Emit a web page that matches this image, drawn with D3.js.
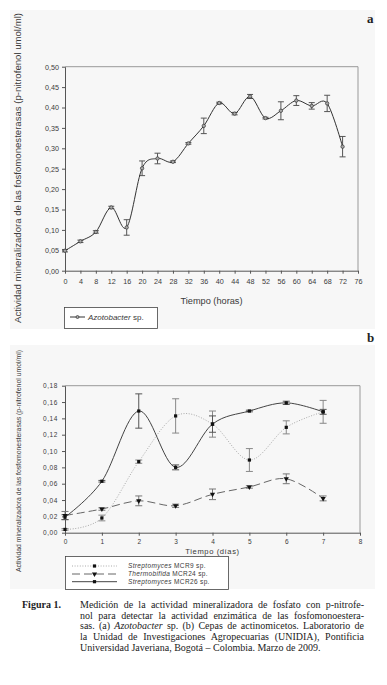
<!DOCTYPE html>
<html>
<head>
<meta charset="utf-8">
<script src="https://cdn.jsdelivr.net/npm/d3@7"></script>
<style>
  body { margin: 0; background: #fff; }
  svg { display: block; }
  text { font-family: "Liberation Sans", Arial, sans-serif; fill: #3a3a3a; }
  .cap text, text.cap { font-family: "Liberation Serif", "Times New Roman", serif; fill: #222; }
</style>
</head>
<body>
<svg id="fig" width="387" height="685"></svg>
<script>
// panel a: Azotobacter sp., time in hours
var hoursA = [0, 4, 8, 12, 16, 20, 24, 28, 32, 36, 40, 44, 48, 52, 56, 60, 64, 68, 72];
var azotobacter = [0.049, 0.072, 0.095, 0.155, 0.106, 0.251, 0.275, 0.267, 0.312, 0.355,
                   0.411, 0.385, 0.427, 0.374, 0.392, 0.417, 0.404, 0.410, 0.304];
var azotobacterErr = [0.003, 0.003, 0.003, 0.003, 0.019, 0.018, 0.013, 0.002, 0.002, 0.019,
                      0.002, 0.003, 0.005, 0.002, 0.022, 0.012, 0.008, 0.020, 0.025];
var xTicksA = d3.range(0, 77, 4);
var yTicksA = [0, 0.05, 0.10, 0.15, 0.20, 0.25, 0.30, 0.35, 0.40, 0.45, 0.50];

// panel b: actinomycetes, time in days
var daysB = [0, 1, 2, 3, 4, 5, 6, 7];
var mcr9 = [0.004, 0.018, 0.087, 0.143, 0.133, 0.089, 0.129, 0.148];
var mcr9Err = [0.001, 0.0035, 0.002, 0.021, 0.016, 0.014, 0.008, 0.014];
var mcr24 = [0.021, 0.029, 0.039, 0.033, 0.047, 0.056, 0.066, 0.042];
var mcr24Err = [0.005, 0.0015, 0.006, 0.002, 0.0065, 0.0015, 0.006, 0.003];
var mcr26 = [0.019, 0.063, 0.149, 0.080, 0.133, 0.149, 0.159, 0.148];
var mcr26Err = [0.003, 0.001, 0.021, 0.003, 0.010, 0.001, 0.002, 0.003];
var xTicksB = [0, 1, 2, 3, 4, 5, 6, 7, 8];
var yTicksB = [0, 0.02, 0.04, 0.06, 0.08, 0.10, 0.12, 0.14, 0.16, 0.18];

var yTitle = "Actividad mineralizadora de las fosfomonesterasas (p-nitrofenol umol/ml)";
var comma = v => d3.format(".2f")(v).replace(".", ",");

var svg = d3.select("#fig");

// light gray panels behind each chart
svg.append("rect").attr("x", 10).attr("y", 10).attr("width", 365).attr("height", 319).attr("fill", "#f7f7f7");
svg.append("rect").attr("x", 10).attr("y", 345).attr("width", 365).attr("height", 244).attr("fill", "#f7f7f7");

function frame(g, x, y) {
  var x0 = x.range()[0], x1 = x.range()[1], y0 = y.range()[0], y1 = y.range()[1];
  g.append("path")
    .attr("d", "M" + x0 + "," + y1 + "H" + x1 + "V" + y0)
    .attr("fill", "none").attr("stroke", "#999").attr("stroke-width", 1);
}

function errorBars(g, xs, ys, errs, x, y, color, cap) {
  var d = xs.map((v, i) => ({x: v, y: ys[i], e: errs[i]}));
  var eb = g.append("g").attr("stroke", color).attr("stroke-width", 1).attr("fill", "none");
  eb.selectAll("path").data(d).enter().append("path")
    .attr("d", p => {
      var cx = x(p.x), t = y(p.y + p.e), b = y(p.y - p.e);
      return "M" + cx + "," + t + "V" + b +
             "M" + (cx - cap) + "," + t + "H" + (cx + cap) +
             "M" + (cx - cap) + "," + b + "H" + (cx + cap);
    });
}

// ---------------- panel a ----------------
var xa = d3.scaleLinear().domain([0, 76]).range([65, 358]);
var ya = d3.scaleLinear().domain([0, 0.5]).range([270.7, 66.7]);
var ga = svg.append("g");
frame(ga, xa, ya);

ga.append("g").attr("transform", "translate(0,270.7)")
  .call(d3.axisBottom(xa).tickValues(xTicksA).tickSize(3).tickPadding(5).tickSizeOuter(0))
  .call(g => g.select(".domain").attr("stroke", "#555"))
  .call(g => g.selectAll("line").attr("stroke", "#555"))
  .call(g => g.selectAll("text").attr("font-size", 7.2).attr("fill", "#3a3a3a").attr("font-family", "Liberation Sans"));

ga.append("g").attr("transform", "translate(65,0)")
  .call(d3.axisLeft(ya).tickValues(yTicksA).tickFormat(comma).tickSize(3).tickPadding(3).tickSizeOuter(0))
  .call(g => g.select(".domain").attr("stroke", "#555"))
  .call(g => g.selectAll("line").attr("stroke", "#555"))
  .call(g => g.selectAll("text").attr("font-size", 7.2).attr("fill", "#3a3a3a").attr("font-family", "Liberation Sans"));

errorBars(ga, hoursA, azotobacter, azotobacterErr, xa, ya, "#555", 3);

var lineA = d3.line().x(d => xa(d[0])).y(d => ya(d[1])).curve(d3.curveCardinal.tension(0));
var ptsA = hoursA.map((h, i) => [h, azotobacter[i]]);
ga.append("path").attr("d", lineA(ptsA)).attr("fill", "none").attr("stroke", "#333").attr("stroke-width", 1);
ga.selectAll(".pa").data(ptsA).enter().append("circle")
  .attr("cx", d => xa(d[0])).attr("cy", d => ya(d[1])).attr("r", 1.7)
  .attr("fill", "#aaa").attr("stroke", "#333").attr("stroke-width", 0.7);

ga.append("text").attr("x", 211.5).attr("y", 303.5).attr("text-anchor", "middle")
  .attr("font-size", 9.2).text("Tiempo (horas)");
ga.append("text").attr("transform", "translate(21,168) rotate(-90)").attr("text-anchor", "middle")
  .attr("font-size", 8.6).attr("fill", "#555").attr("textLength", 310).attr("lengthAdjust", "spacingAndGlyphs").text(yTitle);

// legend a
ga.append("rect").attr("x", 64.5).attr("y", 307.5).attr("width", 93).attr("height", 21)
  .attr("fill", "#fff").attr("stroke", "#444").attr("stroke-width", 0.8);
ga.append("line").attr("x1", 70).attr("x2", 85).attr("y1", 317).attr("y2", 317).attr("stroke", "#333");
ga.append("circle").attr("cx", 77.5).attr("cy", 317).attr("r", 1.5).attr("fill", "#aaa").attr("stroke", "#333").attr("stroke-width", 0.7);
var la = ga.append("text").attr("x", 88).attr("y", 320).attr("font-size", 8);
la.append("tspan").attr("font-style", "italic").text("Azotobacter");
la.append("tspan").text(" sp.");

svg.append("text").attr("class", "cap").attr("x", 367).attr("y", 22.5)
  .attr("font-size", 13).attr("font-weight", "bold").text("a");
svg.append("text").attr("class", "cap").attr("x", 367).attr("y", 341.5)
  .attr("font-size", 13).attr("font-weight", "bold").text("b");

// ---------------- panel b ----------------
var xb = d3.scaleLinear().domain([0, 8]).range([65, 360]);
var yb = d3.scaleLinear().domain([0, 0.18]).range([532.7, 385.7]);
var gb = svg.append("g");
frame(gb, xb, yb);

gb.append("g").attr("transform", "translate(0,532.7)")
  .call(d3.axisBottom(xb).tickValues(xTicksB).tickSize(3).tickPadding(4).tickSizeOuter(0))
  .call(g => g.select(".domain").attr("stroke", "#555"))
  .call(g => g.selectAll("line").attr("stroke", "#555"))
  .call(g => g.selectAll("text").attr("font-size", 6.5).attr("fill", "#3a3a3a").attr("font-family", "Liberation Sans"));

gb.append("g").attr("transform", "translate(65,0)")
  .call(d3.axisLeft(yb).tickValues(yTicksB).tickFormat(comma).tickSize(3).tickPadding(4).tickSizeOuter(0))
  .call(g => g.select(".domain").attr("stroke", "#555"))
  .call(g => g.selectAll("line").attr("stroke", "#555"))
  .call(g => g.selectAll("text").attr("font-size", 6.5).attr("letter-spacing", 0.6).attr("fill", "#3a3a3a").attr("font-family", "Liberation Sans"));

var seriesB = [
  {name: " MCR9 sp.", genus: "Streptomyces", v: mcr9, e: mcr9Err, color: "#aaa", dash: "1,1.6", err: "#888", shape: "circle"},
  {name: " MCR24 sp.", genus: "Thermobifida", v: mcr24, e: mcr24Err, color: "#666", dash: "8,4", err: "#777", shape: "tri"},
  {name: " MCR26 sp.", genus: "Streptomyces", v: mcr26, e: mcr26Err, color: "#444", dash: null, err: "#555", shape: "circle"}
];

var lineB = d3.line().x(d => xb(d[0])).y(d => yb(d[1])).curve(d3.curveCardinal.tension(0));

seriesB.forEach(s => {
  errorBars(gb, daysB, s.v, s.e, xb, yb, s.err, 3.5);
});
seriesB.forEach(s => {
  var pts = daysB.map((d, i) => [d, s.v[i]]);
  gb.append("path").attr("d", lineB(pts)).attr("fill", "none")
    .attr("stroke", s.color).attr("stroke-width", 1)
    .attr("stroke-dasharray", s.dash);
});
function marker(g, shape, cx, cy) {
  if (shape === "tri") {
    g.append("path").attr("d", d3.symbol(d3.symbolTriangle, 12)())
      .attr("transform", "translate(" + cx + "," + cy + ") rotate(180)").attr("fill", "#111");
  } else {
    g.append("rect").attr("x", cx - 1.6).attr("y", cy - 1.6).attr("width", 3.2).attr("height", 3.2).attr("fill", "#111");
  }
}
seriesB.forEach(s => {
  daysB.forEach((d, i) => marker(gb, s.shape, xb(d), yb(s.v[i])));
});

gb.append("text").attr("x", 212.5).attr("y", 554).attr("text-anchor", "middle")
  .attr("font-size", 7.6).attr("letter-spacing", 0.6).text("Tiempo (días)");
gb.append("text").attr("transform", "translate(21,461) rotate(-90)").attr("text-anchor", "middle")
  .attr("font-size", 7.8).attr("fill", "#555").attr("textLength", 222).attr("lengthAdjust", "spacingAndGlyphs").text(yTitle);

// legend b
gb.append("rect").attr("x", 65.5).attr("y", 556.5).attr("width", 163).attr("height", 33)
  .attr("fill", "#fff").attr("stroke", "#444").attr("stroke-width", 0.8);
var rowY = [566, 574, 581.7];
seriesB.forEach((s, i) => {
  gb.append("line").attr("x1", 72).attr("x2", 117).attr("y1", rowY[i]).attr("y2", rowY[i])
    .attr("stroke", s.color).attr("stroke-dasharray", s.dash);
  marker(gb, s.shape, 94.5, rowY[i]);
  var t = gb.append("text").attr("x", 128).attr("y", rowY[i] + 2.3).attr("font-size", 6.5).attr("letter-spacing", 0.35);
  t.append("tspan").attr("font-style", "italic").text(s.genus);
  t.append("tspan").text(s.name);
});

// ---------------- caption ----------------
var capLines = [
  [["Medición de la actividad mineralizadora de fosfato con p-nitrofe-", false]],
  [["nol para detectar la actividad enzimática de las fosfomonoestera-", false]],
  [["sas. (a) ", false], ["Azotobacter", true], [" sp. (b) Cepas de actinomicetos. Laboratorio de", false]],
  [["la Unidad de Investigaciones Agropecuarias (UNIDIA), Pontificia", false]],
  [["Universidad Javeriana, Bogotá – Colombia. Marzo de 2009.", false]]
];
var cap = svg.append("g").attr("class", "cap");
cap.append("text").attr("x", 22).attr("y", 608).attr("font-size", 10).attr("font-weight", "bold").text("Figura 1.");
capLines.forEach((parts, i) => {
  var t = cap.append("text").attr("x", 80).attr("y", 608 + i * 10.65).attr("font-size", 10);
  parts.forEach(p => t.append("tspan").attr("font-style", p[1] ? "italic" : null).text(p[0]));
  if (i < capLines.length - 1) {
    var full = parts.map(p => p[0]).join("");
    var spaces = (full.match(/ /g) || []).length;
    var w = t.node().getComputedTextLength();
    t.attr("word-spacing", (284 - w) / spaces);
  }
});
</script>
</body>
</html>
